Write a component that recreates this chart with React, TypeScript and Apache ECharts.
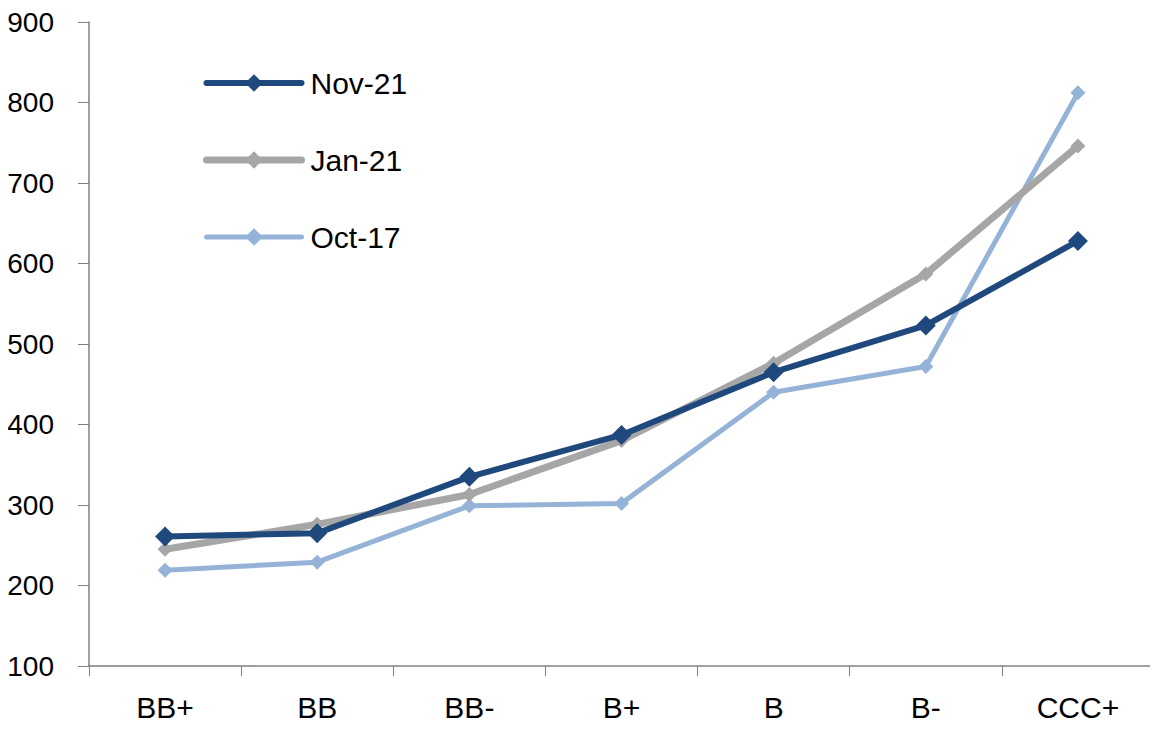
import React, { useEffect, useRef } from "react";
import * as echarts from "echarts";

const categories = ["BB+", "BB", "BB-", "B+", "B", "B-", "CCC+"];
const nov21 = [261, 265, 335, 387, 465, 523, 628];
const jan21 = [245, 276, 313, 380, 476, 587, 746];
const oct17 = [219, 229, 299, 302, 440, 472, 812];
const seriesNames = ["Nov-21", "Jan-21", "Oct-17"];

const FONT = "'Liberation Sans', Arial, sans-serif";
const COLORS: Record<string, string> = { "Nov-21": "#1F497D", "Jan-21": "#A6A6A6", "Oct-17": "#95B3D7" };
const WIDTHS: Record<string, number> = { "Nov-21": 6, "Jan-21": 7, "Oct-17": 5 };

export default function App() {
  const ref = useRef<HTMLDivElement>(null);
  useEffect(() => {
    if (!ref.current) return;
    const chart = echarts.init(ref.current, null, { renderer: "svg" });
    const mk = (name: string, data: number[], size: number, z: number) => ({
      name,
      type: "line",
      data,
      z,
      symbol: "diamond",
      symbolSize: size,
      showSymbol: true,
      lineStyle: { color: COLORS[name], width: WIDTHS[name] },
      itemStyle: { color: COLORS[name] },
    });
    chart.setOption({
      animation: false,
      backgroundColor: "#ffffff",
      textStyle: { fontFamily: FONT, color: "#000" },
      grid: { left: 89, right: 4, top: 22, bottom: 73, containLabel: false },
      legend: {
        orient: "vertical",
        left: 198,
        top: 63,
        itemWidth: 95,
        itemHeight: 22,
        itemGap: 47,
        data: seriesNames.map((n) => ({
          name: n,
          lineStyle: { width: WIDTHS[n], color: COLORS[n], cap: "round" },
        })),
        textStyle: { fontSize: 30, color: "#000", fontFamily: FONT, padding: [0, 0, 0, 4] },
      },
      xAxis: {
        type: "category",
        data: categories,
        boundaryGap: true,
        axisLine: { lineStyle: { color: "#808080", width: 1.5 } },
        axisTick: { show: true, length: 10, lineStyle: { color: "#808080" } },
        axisLabel: { fontSize: 30, color: "#000", fontFamily: FONT, margin: 26 },
        splitLine: { show: false },
      },
      yAxis: {
        type: "value",
        min: 100,
        max: 900,
        interval: 100,
        axisLine: { show: true, lineStyle: { color: "#808080", width: 1.5 } },
        axisTick: { show: true, length: 11, lineStyle: { color: "#808080" } },
        axisLabel: { fontSize: 28, color: "#000", fontFamily: FONT, margin: 35 },
        splitLine: { show: false },
      },
      series: [
        mk("Oct-17", oct17, 15, 1),
        mk("Jan-21", jan21, 15, 2),
        mk("Nov-21", nov21, 20, 3),
      ],
    });
    return () => chart.dispose();
  }, []);
  return <div ref={ref} style={{ width: 1158, height: 739, margin: -8 }} />;
}
